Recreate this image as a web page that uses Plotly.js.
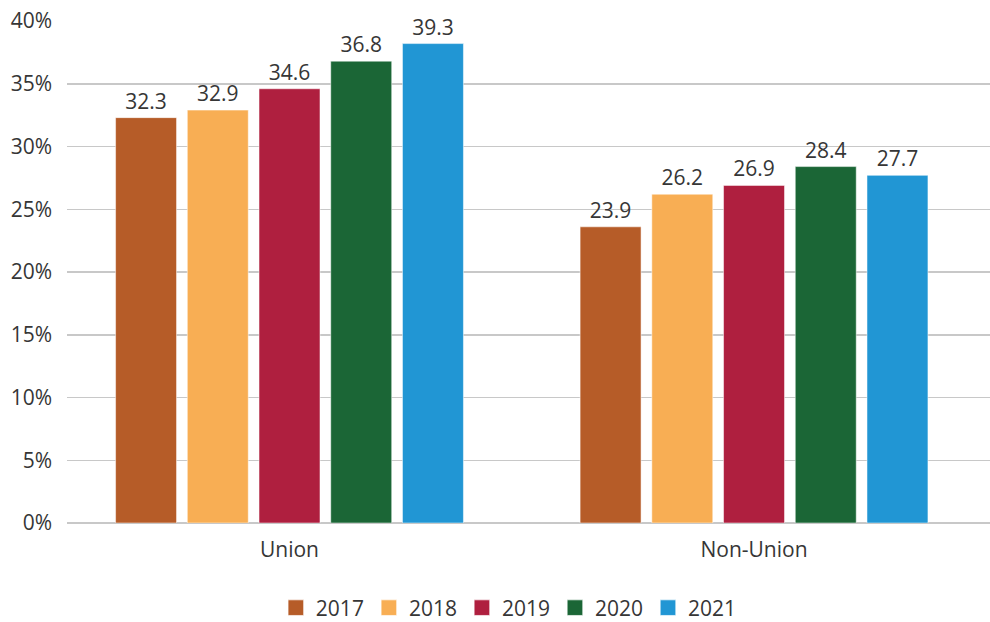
<!DOCTYPE html>
<html>
<head>
<meta charset="utf-8">
<script src="https://cdn.plot.ly/plotly-3.0.1.min.js"></script>
<style>html,body{margin:0;padding:0;background:#fff;}#chart{width:990px;height:622px;}</style>
</head>
<body>
<div id="chart"></div>
<script>
const categories = ["Union", "Non-Union"];
const years = ["2017", "2018", "2019", "2020", "2021"];
// bar heights as drawn in the picture
const v2017 = [32.3, 23.6];
const v2018 = [32.9, 26.2];
const v2019 = [34.6, 26.9];
const v2020 = [36.8, 28.4];
const v2021 = [38.2, 27.7];
// printed labels
const l2017 = ["32.3", "23.9"];
const l2018 = ["32.9", "26.2"];
const l2019 = ["34.6", "26.9"];
const l2020 = ["36.8", "28.4"];
const l2021 = ["39.3", "27.7"];
const colors = ["#B65C28", "#F8AE54", "#AF1F3F", "#1B6636", "#2196D4"];
const yTicks = [0, 5, 10, 15, 20, 25, 30, 35, 40];
const yTickText = ["0%", "5%", "10%", "15%", "20%", "25%", "30%", "35%", "40%"];

const values = [v2017, v2018, v2019, v2020, v2021];
const labels = [l2017, l2018, l2019, l2020, l2021];
const FONT = "Open Sans, Lato, sans-serif";
const TXT = "#363636";
const FS = 21;

const data = years.map((y, i) => ({
  type: "bar",
  name: y,
  x: categories,
  y: values[i],
  text: labels[i],
  textposition: "outside",
  textfont: {family: FONT, size: FS, color: TXT},
  cliponaxis: false,
  marker: {color: colors[i], line: {color: "#ffffff", width: 0.5}},
  hoverinfo: "none"
}));

const layout = {
  width: 990, height: 622,
  margin: {l: 67, r: 0, t: 21, b: 99},
  paper_bgcolor: "#ffffff", plot_bgcolor: "#ffffff",
  font: {family: FONT, size: FS, color: TXT},
  barmode: "group",
  bargap: 0.228,
  bargroupgap: 0.15,
  xaxis: {
    type: "category",
    range: [-0.479, 1.508],
    showgrid: false, showline: false, zeroline: false,
    ticks: "", ticklabelstandoff: 12,
    tickfont: {family: FONT, size: FS, color: TXT}
  },
  yaxis: {
    range: [0, 40],
    tickvals: yTicks, ticktext: yTickText,
    showgrid: true, gridcolor: "#c8c8c8", gridwidth: 1.5,
    zeroline: true, zerolinecolor: "#c8c8c8", zerolinewidth: 1.5,
    showline: false, ticks: "", ticklabelstandoff: 14,
    tickfont: {family: FONT, size: FS, color: TXT}
  },
  showlegend: true,
  legend: {
    orientation: "h",
    xref: "container", yref: "container",
    x: 0.514, xanchor: "center",
    y: 0.0225, yanchor: "middle",
    font: {family: FONT, size: FS, color: TXT},
    itemwidth: 30,
    traceorder: "normal"
  }
};

Plotly.newPlot("chart", data, layout, {displayModeBar: false, staticPlot: true}).then(gd => {
  gd.querySelectorAll(".legend .legendpoints path").forEach(p => {
    const t = p.getAttribute("transform") || "";
    p.setAttribute("transform", t + " scale(1.3)");
  });
});
</script>
</body>
</html>
